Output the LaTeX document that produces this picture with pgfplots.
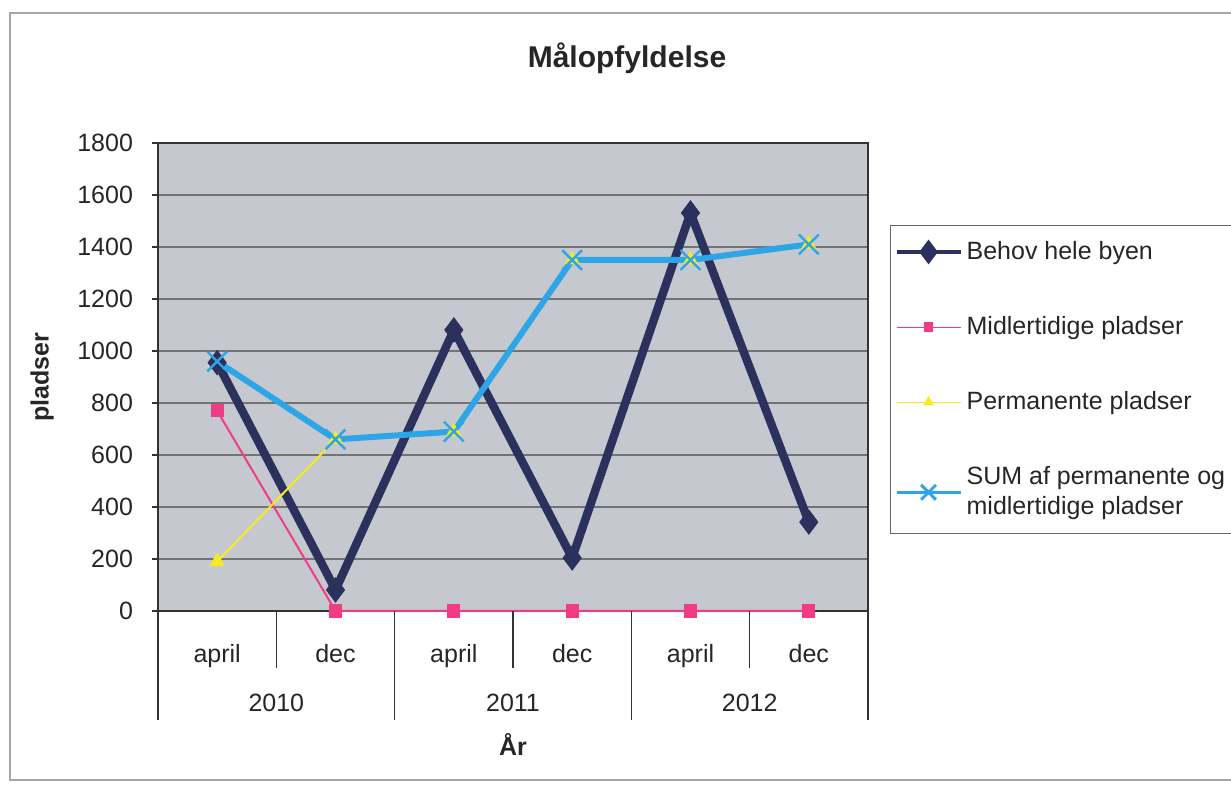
\documentclass[border=0pt]{standalone}
\usepackage{fontspec}
\setmainfont{Liberation Sans}
\usepackage{pgfplots}
\pgfplotsset{compat=1.18}

\definecolor{behov}{RGB}{44,48,92}
\definecolor{midl}{RGB}{240,60,130}
\definecolor{perm}{RGB}{245,235,30}
\definecolor{sumc}{RGB}{45,165,230}
\definecolor{plotbg}{RGB}{198,200,208}

\begin{document}
\begin{tikzpicture}
\useasboundingbox (-79pt,-89.5pt) rectangle (536.5pt,305.5pt);
\fill[white] (-79pt,-89.5pt) rectangle (536.5pt,305.5pt);
\draw[gray!70, line width=0.6pt] (-74pt,-84.5pt) rectangle (545pt,299pt);
\node[font=\fontsize{15}{18}\selectfont\bfseries, text=black!85] at (234.5pt,276.5pt) {Målopfyldelse};
\begin{axis}[
    at={(0,0)}, anchor=south west,
    scale only axis, width=355pt, height=234pt,
    clip=false,
    xmin=-0.5, xmax=5.5, ymin=0, ymax=1800,
    ytick={0,200,...,1800},
    ytick pos=left,
    xtick={0,...,5},
    xticklabels={april,dec,april,dec,april,dec},
    xtick style={draw=none},
    major tick length=3pt, tick align=outside,
    ymajorgrids, grid style={black!55, line width=0.6pt},
    axis background/.style={fill=plotbg},
    axis line style={black!80, line width=0.8pt},
    tick style={black!80, line width=0.8pt},
    ticklabel style={font=\fontsize{12.5}{15}\selectfont, text=black!85},
    /pgf/number format/assume math mode=true,
    /pgf/number format/1000 sep={},
    yticklabel style={xshift=-6pt},
    xticklabel style={anchor=base, yshift=-23pt},
    ylabel={pladser},
    ylabel style={at={(axis description cs:-0.163,0.5)}, anchor=center, font=\fontsize{12.5}{15}\selectfont\bfseries, text=black!85},
    xlabel={År},
    xlabel style={at={(axis description cs:0.5,-0.286)}, anchor=center, font=\fontsize{12.5}{15}\selectfont\bfseries, text=black!85},
    legend cell align=left,
    legend style={at={(1.031,0.825)}, anchor=north west, draw=black!60, line width=0.5pt,
        font=\fontsize{12.5}{15}\selectfont, text=black!85, row sep=23pt,
        inner xsep=2pt, inner ysep=6pt, cells={align=left}},
    legend image code/.code={
        \draw[mark repeat=2, mark phase=2, mark options={scale=0.75}, line width=0.7\pgflinewidth]
        plot coordinates {(0pt,0pt) (16pt,0pt) (32pt,0pt)};},
]
\addplot[behov, line width=4.2pt, mark=diamond*, mark size=6pt, mark options={line width=0.5pt}]
    coordinates {(0,955) (1,81) (2,1081) (3,204) (4,1531) (5,342)};
\addlegendentry{Behov hele byen}
\addplot[midl, line width=1pt, mark=square*, mark size=2.8pt]
    coordinates {(0,770) (1,0) (2,0) (3,0) (4,0) (5,0)};
\addlegendentry{Midlertidige pladser}
\addplot[perm, line width=1pt, mark=triangle*, mark size=3.5pt]
    coordinates {(0,190) (1,660) (2,690) (3,1350) (4,1350) (5,1410)};
\addlegendentry{Permanente pladser}
\addplot[sumc, line width=3pt, mark=x, mark size=7pt, mark options={line width=1.2pt}]
    coordinates {(0,960) (1,660) (2,690) (3,1350) (4,1350) (5,1410)};
\addlegendentry{SUM af permanente og\\midlertidige pladser}
% category separators below the axis
\draw[black!80, line width=0.8pt] (axis cs:0.5,0) -- ++(0pt,-28.5pt);
\draw[black!80, line width=0.8pt] (axis cs:2.5,0) -- ++(0pt,-28.5pt);
\draw[black!80, line width=0.8pt] (axis cs:4.5,0) -- ++(0pt,-28.5pt);
\draw[black!80, line width=0.8pt] (axis cs:-0.5,0) -- ++(0pt,-54.5pt);
\draw[black!80, line width=0.8pt] (axis cs:1.5,0) -- ++(0pt,-54.5pt);
\draw[black!80, line width=0.8pt] (axis cs:3.5,0) -- ++(0pt,-54.5pt);
\draw[black!80, line width=0.8pt] (axis cs:5.5,0) -- ++(0pt,-54.5pt);
\node[anchor=base, font=\fontsize{12.5}{15}\selectfont, text=black!85] at (axis cs:0.5,0) [yshift=-50.5pt] {2010};
\node[anchor=base, font=\fontsize{12.5}{15}\selectfont, text=black!85] at (axis cs:2.5,0) [yshift=-50.5pt] {2011};
\node[anchor=base, font=\fontsize{12.5}{15}\selectfont, text=black!85] at (axis cs:4.5,0) [yshift=-50.5pt] {2012};
\end{axis}
\end{tikzpicture}
\end{document}
